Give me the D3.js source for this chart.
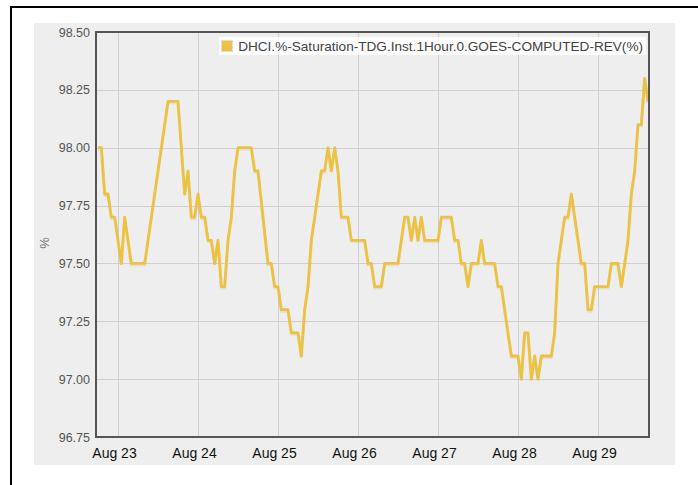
<!DOCTYPE html>
<html>
<head>
<meta charset="utf-8">
<script src="https://cdn.jsdelivr.net/npm/d3@7"></script>
<style>
	body { margin: 0; background: #fff; }
	svg { display: block; font-family: Arial, "Liberation Sans", sans-serif; }
</style>
</head>
<body>
<div id="chart"></div>
<script>
// hours counted from Aug 23 00:00, values in %
var hours = [-6, -5, -4, -3, -2, -1, 1, 2, 4, 8, 15, 18, 20, 21, 22, 23, 24, 25, 26, 27,
	28, 29, 30, 31, 32, 33, 34, 35, 36, 40, 41, 42, 45, 46, 47, 48, 49, 51, 52, 54,
	55, 56, 57, 58, 59, 60, 61, 62, 63, 64, 65, 66, 67, 69, 70, 74, 75, 76, 77, 79,
	80, 84, 86, 87, 88, 89, 90, 91, 92, 96, 97, 100, 101, 102, 103, 104, 105, 106, 108, 109,
	110, 113, 114, 115, 118, 120, 121, 122, 123, 124, 125, 126, 127, 130, 131, 132, 133, 134, 135, 136,
	139, 140, 141, 142, 143, 147, 148, 150, 151, 152, 153, 154, 155, 156, 157, 158, 159];
var saturation = [98.0, 98.0, 97.8, 97.8, 97.7, 97.7, 97.5, 97.7, 97.5, 97.5, 98.2, 98.2, 97.8, 97.9, 97.7, 97.7, 97.8, 97.7, 97.7, 97.6,
	97.6, 97.5, 97.6, 97.4, 97.4, 97.6, 97.7, 97.9, 98.0, 98.0, 97.9, 97.9, 97.5, 97.5, 97.4, 97.4, 97.3, 97.3, 97.2, 97.2,
	97.1, 97.3, 97.4, 97.6, 97.7, 97.8, 97.9, 97.9, 98.0, 97.9, 98.0, 97.9, 97.7, 97.7, 97.6, 97.6, 97.5, 97.5, 97.4, 97.4,
	97.5, 97.5, 97.7, 97.7, 97.6, 97.7, 97.6, 97.7, 97.6, 97.6, 97.7, 97.7, 97.6, 97.6, 97.5, 97.5, 97.4, 97.5, 97.5, 97.6,
	97.5, 97.5, 97.4, 97.4, 97.1, 97.1, 97.0, 97.2, 97.2, 97.0, 97.1, 97.0, 97.1, 97.1, 97.2, 97.5, 97.6, 97.7, 97.7, 97.8,
	97.5, 97.5, 97.3, 97.3, 97.4, 97.4, 97.5, 97.5, 97.4, 97.5, 97.6, 97.8, 97.9, 98.1, 98.1, 98.3, 98.2];
var yTicks = [96.75, 97.00, 97.25, 97.50, 97.75, 98.00, 98.25, 98.50];
var seriesName = "DHCI.%-Saturation-TDG.Inst.1Hour.0.GOES-COMPUTED-REV(%)";

var width = 698;
var height = 485;
var plot = {left: 96, top: 32, right: 649, bottom: 437};
var lineColor = "#edc240";

var day0 = new Date(2019, 7, 23);
function hourToDate(h){
	return new Date(day0.getTime() + h * 3600 * 1000);
}
var data = hours.map(function(h, i){
	return {date: hourToDate(h), value: saturation[i]};
});

var svg = d3.select("#chart")
	.append("svg")
	.attr("width", width)
	.attr("height", height);

// outer frame (only top and left visible)
svg.append("rect").attr("x", 10).attr("y", 6).attr("width", width).attr("height", 2).style("fill", "#000");
svg.append("rect").attr("x", 10).attr("y", 6).attr("width", 2).attr("height", height).style("fill", "#000");

// placeholder background
svg.append("rect")
	.attr("x", 34)
	.attr("y", 23)
	.attr("width", 641)
	.attr("height", 442)
	.style("fill", "#eeeeee");

var x = d3.scaleTime()
	.domain([hourToDate(-6.6), hourToDate(159.3)])
	.range([plot.left, plot.right]);
var y = d3.scaleLinear()
	.domain([96.75, 98.5])
	.range([plot.bottom, plot.top]);

var dayTicks = d3.timeDay.range(hourToDate(0), hourToDate(160));

// grid
svg.append("g")
	.selectAll("line")
	.data(yTicks)
	.enter()
	.append("line")
	.attr("x1", plot.left)
	.attr("x2", plot.right)
	.attr("y1", function(d){ return Math.round(y(d)) + 0.5; })
	.attr("y2", function(d){ return Math.round(y(d)) + 0.5; })
	.style("stroke", "#cfcfcf")
	.style("stroke-width", 1);
svg.append("g")
	.selectAll("line")
	.data(dayTicks)
	.enter()
	.append("line")
	.attr("x1", function(d){ return Math.round(x(d)) + 0.5; })
	.attr("x2", function(d){ return Math.round(x(d)) + 0.5; })
	.attr("y1", plot.top)
	.attr("y2", plot.bottom)
	.style("stroke", "#cfcfcf")
	.style("stroke-width", 1);

// axis labels via d3 axes, domain paths hidden
var yAxis = svg.append("g")
	.attr("transform", "translate(" + (plot.left - 6) + ",0)")
	.call(d3.axisLeft(y).tickValues(yTicks).tickFormat(d3.format(".2f")).tickSize(0).tickPadding(0));
yAxis.select(".domain").remove();
yAxis.selectAll("text")
	.style("font-family", "Arial, 'Liberation Sans', sans-serif")
	.style("font-size", "12.5px")
	.style("fill", "#545454");

var xAxis = svg.append("g")
	.attr("transform", "translate(0," + (plot.bottom + 11) + ")")
	.call(d3.axisBottom(x).tickValues(dayTicks).tickFormat(d3.timeFormat("%b %d")).tickSize(0).tickPadding(0));
xAxis.select(".domain").remove();
xAxis.selectAll("text")
	.attr("dx", -4)
	.style("font-family", "Arial, 'Liberation Sans', sans-serif")
	.style("font-size", "14px")
	.style("fill", "#111");

svg.append("text")
	.attr("transform", "translate(49,243) rotate(-90)")
	.style("text-anchor", "middle")
	.style("font-size", "13px")
	.style("fill", "#777")
	.text("%");

// series line
var line = d3.line()
	.x(function(d){ return x(d.date); })
	.y(function(d){ return y(d.value); });
svg.append("path")
	.datum(data)
	.attr("d", line)
	.attr("transform", "translate(0,1.5)")
	.style("fill", "none")
	.style("stroke", "rgba(0,0,0,0.06)")
	.style("stroke-width", 3);
svg.append("path")
	.datum(data)
	.attr("d", line)
	.style("fill", "none")
	.style("stroke", lineColor)
	.style("stroke-width", 2.8)
	.style("stroke-linejoin", "round");

// plot border
svg.append("rect")
	.attr("x", plot.left)
	.attr("y", plot.top)
	.attr("width", plot.right - plot.left)
	.attr("height", plot.bottom - plot.top)
	.style("fill", "none")
	.style("stroke", "#555")
	.style("stroke-width", 2);

// legend
var legend = svg.append("g");
legend.append("rect")
	.attr("x", 219)
	.attr("y", 37)
	.attr("width", 427)
	.attr("height", 18)
	.style("fill", "#fff")
	.style("opacity", 0.85);
legend.append("rect")
	.attr("x", 221.5)
	.attr("y", 40.5)
	.attr("width", 11)
	.attr("height", 11)
	.style("fill", lineColor)
	.style("stroke", "#ddd")
	.style("stroke-width", 1);
legend.append("text")
	.attr("x", 643)
	.attr("y", 50.5)
	.style("text-anchor", "end")
	.style("font-size", "13.6px")
	.style("fill", "#444")
	.text(seriesName);
</script>
</body>
</html>
